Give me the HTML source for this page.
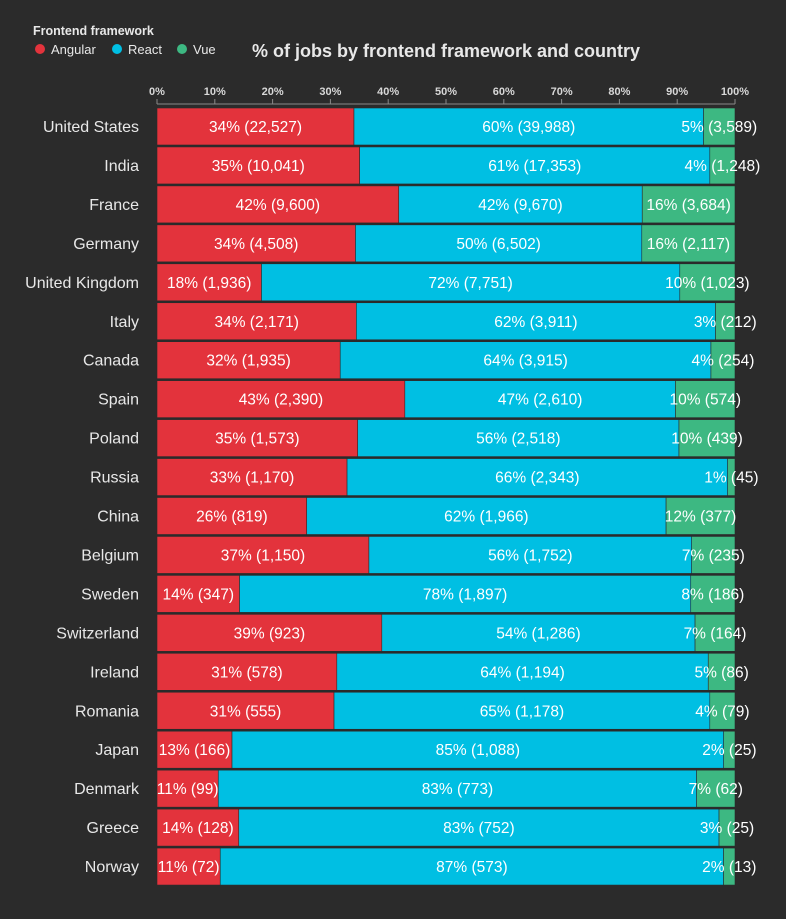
<!DOCTYPE html>
<html><head><meta charset="utf-8"><style>
body{margin:0;background:#2b2b2b;width:786px;height:914px;overflow:hidden;font-family:"Liberation Sans",Arial,sans-serif}
</style></head><body>
<svg id="chart" width="786" height="914" xmlns="http://www.w3.org/2000/svg">
<rect width="786" height="914" fill="#2b2b2b"/>
<g>
<text x="33" y="35" fill="#e8e8e8" font-size="12.5" font-weight="bold">Frontend framework</text>
<g><circle cx="40" cy="49" r="5" fill="#e3333c"/><text x="51" y="54" fill="#e8e8e8" font-size="13">Angular</text></g>
<g><circle cx="117" cy="49" r="5" fill="#00bfe3"/><text x="128" y="54" fill="#e8e8e8" font-size="13">React</text></g>
<g><circle cx="182" cy="49" r="5" fill="#3db882"/><text x="193" y="54" fill="#e8e8e8" font-size="13">Vue</text></g>
</g>
<text x="446" y="57" text-anchor="middle" fill="#e8e8e8" font-size="18" font-weight="bold">% of jobs by frontend framework and country</text>
<g id="axis"></g>
<g id="bars"></g>
</svg>
<script>
const countries=["United States","India","France","Germany","United Kingdom","Italy","Canada","Spain","Poland","Russia","China","Belgium","Sweden","Switzerland","Ireland","Romania","Japan","Denmark","Greece","Norway"];
const angular=[22527,10041,9600,4508,1936,2171,1935,2390,1573,1170,819,1150,347,923,578,555,166,99,128,72];
const react=[39988,17353,9670,6502,7751,3911,3915,2610,2518,2343,1966,1752,1897,1286,1194,1178,1088,773,752,573];
const vue=[3589,1248,3684,2117,1023,212,254,574,439,45,377,235,186,164,86,79,25,62,25,13];
const ticks=[0,10,20,30,40,50,60,70,80,90,100];
const NS="http://www.w3.org/2000/svg";
const x0=157,x1=735,top0=108,pitch=38.95,bh=37;
const xs=p=>x0+(x1-x0)*p/100;
const ys=i=>top0+i*pitch;
function mk(t,a,parent){const e=document.createElementNS(NS,t);for(const k in a)e.setAttribute(k,a[k]);parent.appendChild(e);return e;}
const ax=document.getElementById('axis');
const al=mk('line',{x1:x0,x2:x1,y1:104,y2:104,stroke:'#8a8a8a','stroke-width':1},ax);


ticks.forEach(t=>{
 const l=mk('line',{x1:xs(t),x2:xs(t),y1:99,y2:104,stroke:'#8a8a8a'},ax);
 
 
 const tx=mk('text',{x:xs(t),y:95,'text-anchor':'middle',fill:'#d8d8d8','font-size':'11','font-weight':'bold'},ax);
 tx.textContent=t+'%';
 
 
});
const bg=document.getElementById('bars');
const series=[["angular",angular,"#e3333c"],["react",react,"#00bfe3"],["vue",vue,"#3db882"]];
countries.forEach((c,i)=>{
 const tot=angular[i]+react[i]+vue[i];
 const y=ys(i);
 const lab=mk('text',{x:139,y:y+bh/2+5.5,'text-anchor':'end',fill:'#e8e8e8','font-size':'16'},bg);
 lab.textContent=c;
 
 
 let cum=0;
 series.forEach(([n,arr,col])=>{
  const p=arr[i]/tot*100;
  const r=mk('rect',{x:xs(cum),y:y,width:xs(cum+p)-xs(cum),height:bh,fill:col,stroke:'#2b2b2b','stroke-width':0.6},bg);
  
  
  const t=mk('text',{x:(xs(cum)+xs(cum+p))/2,y:y+bh/2+5.5,'text-anchor':'middle',fill:'#ffffff','font-size':'15.5'},bg);
  t.textContent=Math.round(p)+'% ('+arr[i].toLocaleString('en-US')+')';
  
  
  cum+=p;
 });
});
</script>
</body></html>
